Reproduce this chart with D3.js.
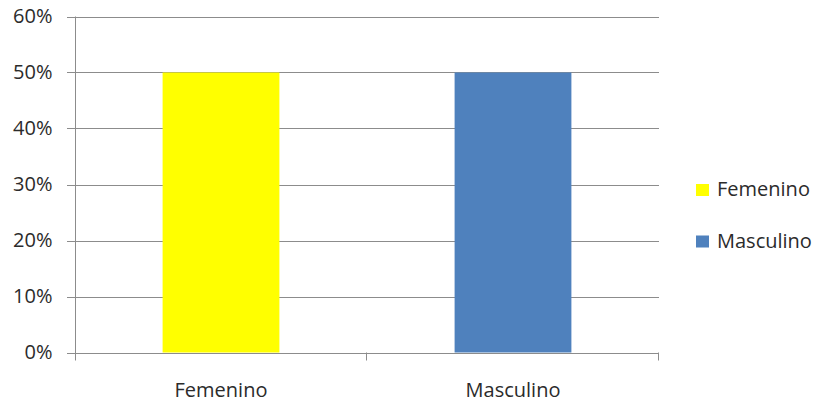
<!DOCTYPE html>
<html><head><meta charset="utf-8">
<script src="https://cdn.jsdelivr.net/npm/d3@7"></script>
<style>body{margin:0;background:#fff}svg{display:block}text{font-family:"Open Sans",sans-serif;fill:#2b2b2b}</style>
</head><body>
<svg id="c" width="817" height="402"></svg>
<script>
const categories = ["Femenino", "Masculino"];
const values = [0.5, 0.5];
const colors = ["#FFFF00", "#4F81BD"];
const yTicks = [0, 0.1, 0.2, 0.3, 0.4, 0.5, 0.6];

const svg = d3.select("#c");
const pLeft = 75, pRight = 659, pTop = 16.5, pBottom = 352.5;
const x = d3.scaleBand().domain(categories).range([pLeft, pRight]).paddingInner(0.6).paddingOuter(0.3);
const y = d3.scaleLinear().domain([0, 0.6]).range([pBottom, pTop]);

// gridlines
svg.append("g").selectAll("line").data(yTicks).join("line")
  .attr("x1", pLeft - 8).attr("x2", pRight)
  .attr("y1", d => Math.round(y(d)) + 0.5).attr("y2", d => Math.round(y(d)) + 0.5)
  .attr("stroke", "#8c8c8c").attr("stroke-width", 1);

// y labels
svg.append("g").selectAll("text").data(yTicks).join("text")
  .attr("x", 52.5).attr("y", d => y(d) + 6.5)
  .attr("text-anchor", "end").attr("font-size", 20)
  .text(d => d3.format(".0%")(d));

// bars
svg.append("g").selectAll("rect").data(categories).join("rect")
  .attr("x", d => x(d)).attr("width", x.bandwidth())
  .attr("y", (d, i) => y(values[i])).attr("height", (d, i) => y(0) - y(values[i]))
  .attr("fill", (d, i) => colors[i]);

// y axis line
svg.append("line").attr("x1", pLeft + 0.5).attr("x2", pLeft + 0.5)
  .attr("y1", pTop).attr("y2", pBottom + 8).attr("stroke", "#8c8c8c");
// x axis line
svg.append("line").attr("x1", pLeft).attr("x2", pRight)
  .attr("y1", Math.round(pBottom) + 0.5).attr("y2", Math.round(pBottom) + 0.5).attr("stroke", "#8c8c8c");
// category boundary ticks
const step = (pRight - pLeft) / categories.length;
svg.append("g").selectAll("line").data(d3.range(1, categories.length + 1)).join("line")
  .attr("x1", i => Math.round(pLeft + i * step) - 0.5).attr("x2", i => Math.round(pLeft + i * step) - 0.5)
  .attr("y1", pBottom).attr("y2", pBottom + 8).attr("stroke", "#8c8c8c");

// x labels
svg.append("g").selectAll("text").data(categories).join("text")
  .attr("x", d => x(d) + x.bandwidth() / 2).attr("y", 397)
  .attr("text-anchor", "middle").attr("font-size", 20).text(d => d);

// legend
const lg = svg.append("g").selectAll("g").data(categories).join("g")
  .attr("transform", (d, i) => `translate(696,${184 + i * 51.5})`);
lg.append("rect").attr("width", 13).attr("height", 12).attr("fill", (d, i) => colors[i]);
lg.append("text").attr("x", 21).attr("y", 12).attr("font-size", 20).text(d => d);
</script>
</body></html>
